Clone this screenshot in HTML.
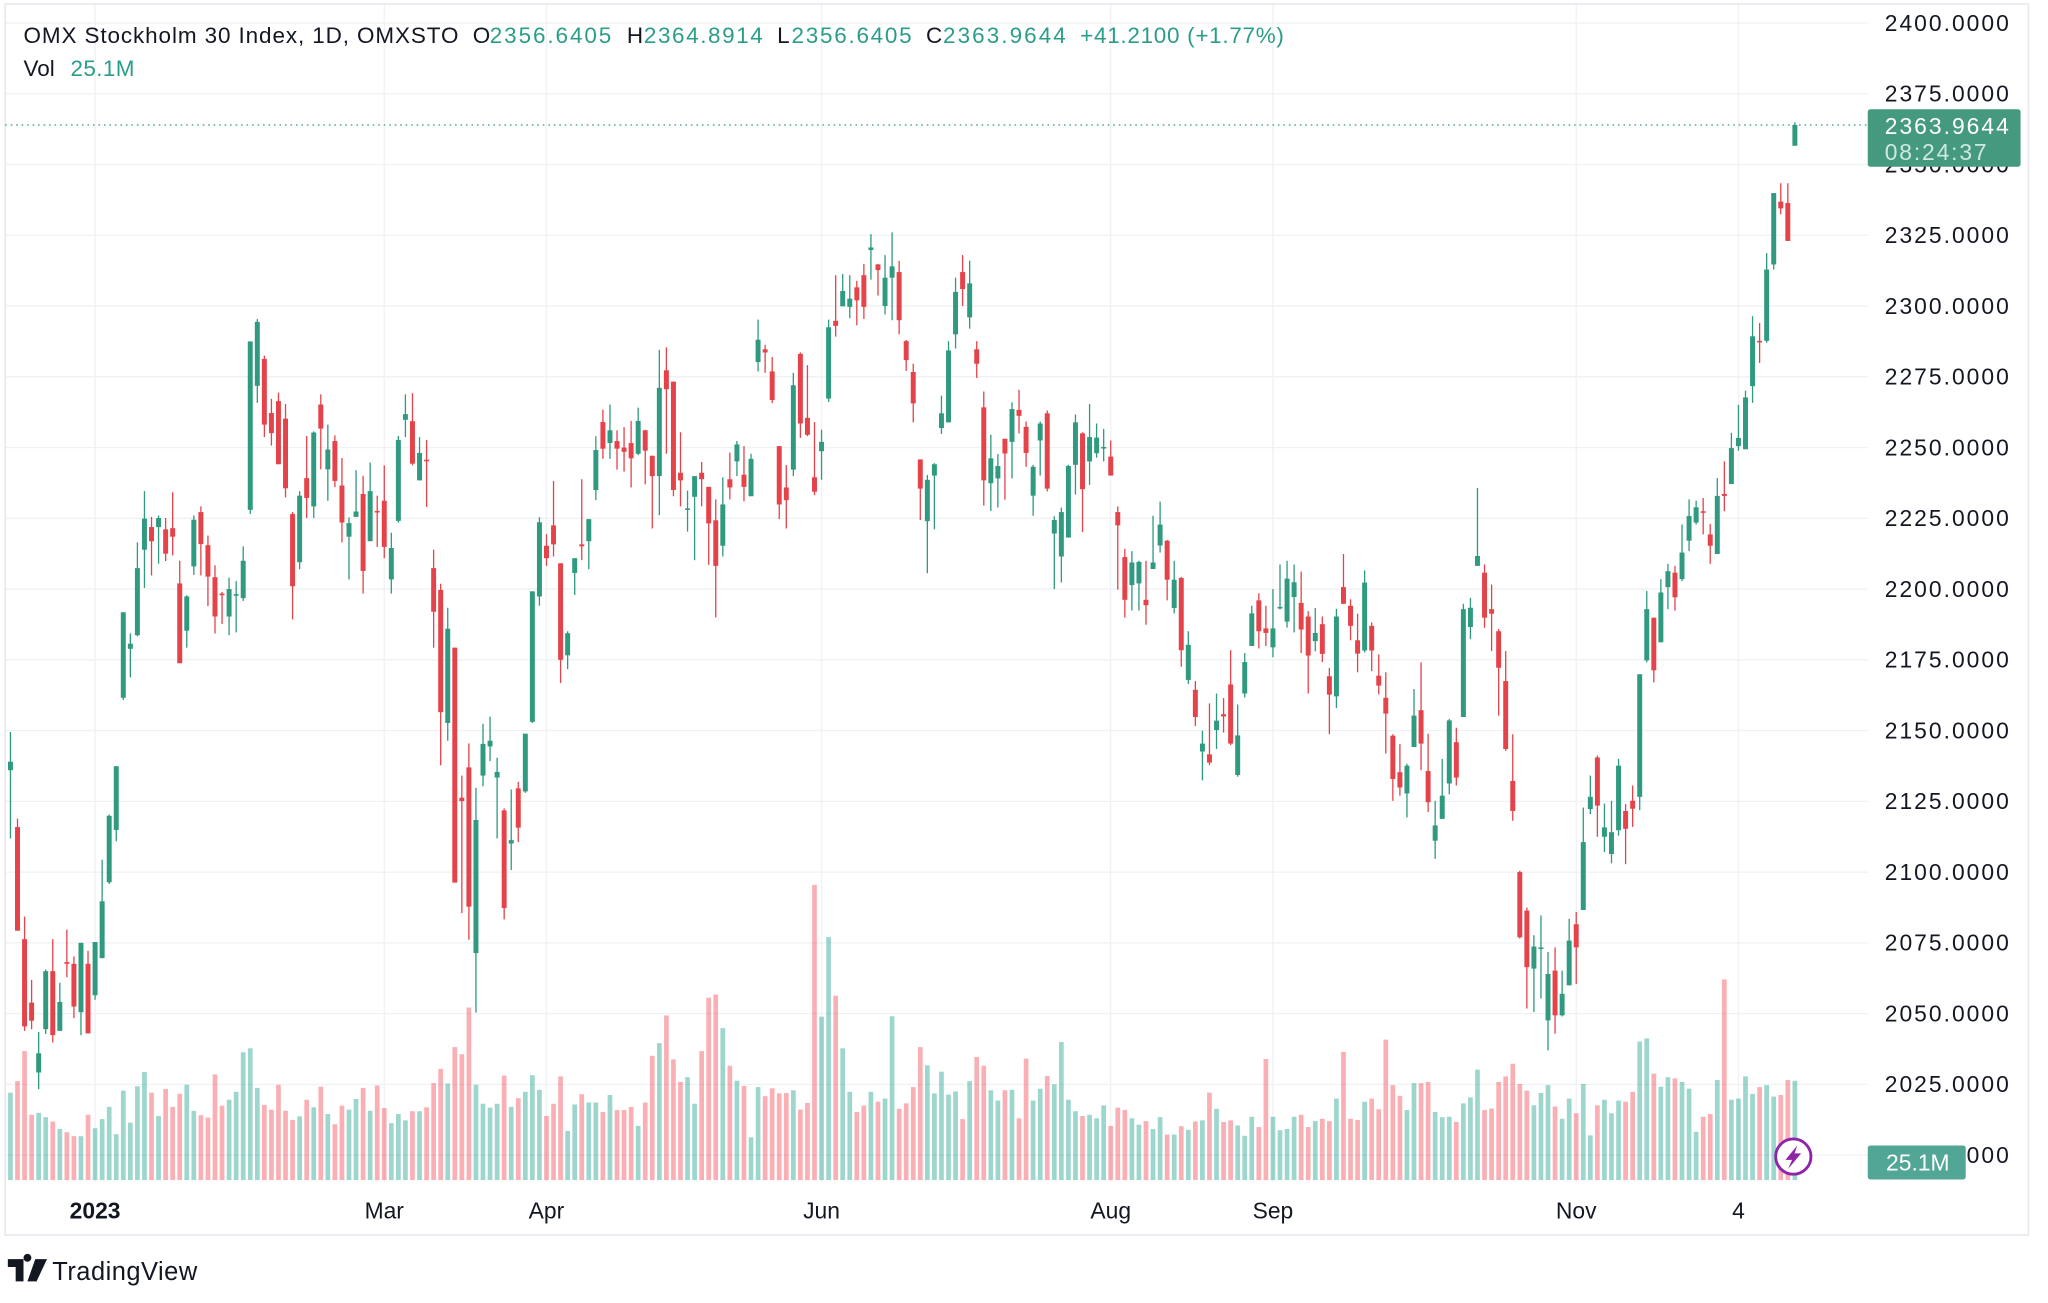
<!DOCTYPE html>
<html><head><meta charset="utf-8"><style>
html,body{margin:0;padding:0;background:#fff;}
svg{display:block;}
text{font-family:"Liberation Sans",sans-serif;}
</style></head><body>
<svg id="chart" width="2048" height="1303" viewBox="0 0 1568 997.6" preserveAspectRatio="none" xmlns="http://www.w3.org/2000/svg">
<rect x="0" y="0" width="1568" height="997.6" fill="#fff"/>
<g id="grid"></g>
<g id="vols"></g>
<g id="candles"></g>
<g id="axis"></g>
<g id="taxis"></g>
<rect x="4" y="3" width="1549" height="942.6" fill="none" stroke="#e6e8ee" stroke-width="1.2"/>
<g font-size="17.2">
<text x="18" y="33" fill="#131722" textLength="333">OMX Stockholm 30 Index, 1D, OMXSTO</text>
<text x="362" y="33" fill="#131722">O</text>
<text x="375" y="33" fill="#2a9d88" textLength="93">2356.6405</text>
<text x="480" y="33" fill="#131722">H</text>
<text x="493" y="33" fill="#2a9d88" textLength="91">2364.8914</text>
<text x="595" y="33" fill="#131722">L</text>
<text x="606" y="33" fill="#2a9d88" textLength="92">2356.6405</text>
<text x="709" y="33" fill="#131722">C</text>
<text x="722" y="33" fill="#2a9d88" textLength="94">2363.9644</text>
<text x="827" y="33" fill="#2a9d88" textLength="156">+41.2100 (+1.77%)</text>
<text x="18" y="58" fill="#131722">Vol</text>
<text x="54" y="58" fill="#2a9d88" textLength="49">25.1M</text>
</g>
<g>
<path d="M6 964h12v17h-6v-11h-6z M21 966a3 3 0 1 1 0.01 0z M27 964h9l-8 17h-7z" fill="#131722"/>
<text x="40" y="980" font-size="19.5" fill="#131722" textLength="111">TradingView</text>
</g>
</svg>
<script>
const opens=[2136.0,2115.9,2076.3,2053.9,2029.2,2044.5,2065.0,2043.9,2068.2,2067.6,2050.5,2067.6,2056.5,2069.6,2096.4,2114.9,2161.6,2178.9,2183.7,2213.9,2221.9,2221.9,2221.1,2221.5,2202.0,2185.3,2208.0,2227.2,2215.5,2204.2,2198.4,2190.3,2197.8,2196.8,2228.0,2271.8,2281.3,2262.2,2266.4,2260.2,2226.5,2209.5,2239.2,2229.2,2265.2,2242.3,2252.3,2236.6,2218.5,2225.5,2233.6,2216.9,2227.6,2231.2,2203.4,2224.1,2259.8,2259.3,2238.4,2245.7,2207.4,2199.7,2152.7,2179.3,2126.3,2137.0,2071.4,2134.1,2144.4,2133.4,2121.8,2110.1,2129.6,2128.5,2153.1,2197.4,2215.3,2222.5,2209.1,2176.6,2205.7,2215.8,2216.9,2235.0,2259.0,2251.6,2252.3,2250.0,2251.6,2247.8,2256.1,2247.1,2239.9,2277.3,2273.3,2241.1,2228.1,2232.6,2241.1,2236.1,2224.3,2215.3,2238.8,2245.1,2240.4,2232.8,2280.2,2284.7,2276.9,2250.5,2235.9,2242.2,2283.1,2260.5,2239.5,2248.7,2267.3,2294.8,2299.9,2299.7,2306.6,2310.9,2319.8,2314.7,2300,2310,2312,2287.6,2276.7,2245.8,2224.0,2240.1,2256.9,2258.9,2290,2312,2296,2284.7,2264.2,2237.4,2239.1,2253.1,2252.0,2263.3,2257.3,2233.0,2252.5,2262.1,2219.6,2211.5,2218.2,2243.9,2255.0,2245.1,2248.0,2249.9,2246.8,2227.2,2211.3,2201.4,2202.0,2196.2,2207.1,2215.4,2217.1,2193.3,2203.9,2167.9,2164.4,2142.6,2141.6,2150.2,2155.8,2166.3,2134.3,2163.1,2179.9,2196.0,2186.1,2179.4,2193.3,2188.5,2197.2,2195.1,2190.3,2181.6,2187.6,2169.2,2162.1,2200.7,2194.1,2181.9,2178.3,2187.0,2169.4,2161.6,2148.2,2135.3,2127.8,2144.2,2157.2,2135.7,2111.1,2118.8,2131.3,2145.9,2154.8,2186.6,2208.2,2205.8,2192.9,2185.1,2167.5,2132.2,2100.0,2086.4,2065.9,2073.0,2047.6,2065.2,2049.4,2060.0,2081.6,2086.6,2122.3,2140.5,2112.5,2106.4,2114.8,2121.6,2125.2,2126.6,2174.8,2189.9,2181.2,2200.7,2205.8,2203.5,2217.1,2223.5,2227.5,2219.3,2212.4,2233.6,2237.1,2250.5,2249.4,2271.7,2287.7,2287.7,2314.7,2336.9,2336.4,2356.64];
const closes=[2139.0,2079.3,2045.5,2047.5,2036.0,2065.0,2042.4,2054.1,2067.6,2052.5,2075.0,2043.0,2075.3,2089.7,2119.9,2137.4,2191.8,2180.7,2207.4,2224.9,2216.9,2225.1,2212.5,2218.5,2173.8,2197.4,2224.5,2215.9,2204.4,2190.3,2198.0,2200.0,2198.2,2210.0,2287.5,2294.4,2258.1,2255.1,2244.1,2235.6,2201.0,2233.0,2232.2,2255.3,2256.7,2249.3,2238.2,2223.5,2223.3,2227.4,2206.4,2234.6,2227.2,2214.9,2214.5,2252.7,2261.8,2244.3,2248.1,2245.3,2192.0,2156.5,2186.0,2096.3,2125.1,2087.8,2118.4,2145.3,2146.4,2135.4,2087.3,2111.3,2115.7,2148.9,2199.2,2223.6,2210.9,2215.8,2175.0,2184.4,2210.9,2215.1,2224.7,2249.1,2249.6,2256.1,2249.6,2248.5,2246.2,2259.4,2248.9,2239.9,2271.1,2270.6,2235.0,2238.4,2228.5,2239.9,2238.8,2223.2,2208.2,2229.9,2235.9,2251.1,2236.1,2246.0,2288.1,2283.6,2266.8,2229.9,2231.4,2272.0,2258.5,2254.5,2234.4,2252.0,2292.5,2293.0,2305.3,2302.6,2302.0,2299.7,2320.7,2312.7,2310,2314,2295,2280.9,2265.6,2235.5,2238.6,2244.1,2262.1,2284.3,2305,2306,2308,2279.6,2238.4,2246.2,2243.5,2247.9,2263.6,2261.2,2248.1,2243.2,2258.5,2235.5,2224.4,2227.2,2243.5,2258.9,2235.3,2253.7,2253.5,2250.2,2240.1,2222.5,2196.2,2209.4,2209.6,2194.3,2209.4,2222.8,2203.3,2203.3,2178.4,2180.3,2154.8,2145.4,2138.7,2153.5,2155.0,2145.4,2148.3,2174.2,2191.4,2185.1,2184.5,2186.1,2193.7,2203.7,2202.4,2185.7,2176.5,2184.5,2177.1,2162.7,2190.3,2194.8,2187.0,2177.2,2202.3,2178.3,2165.9,2156.0,2132.9,2129.9,2137.6,2155.3,2145.4,2124.7,2116.5,2127.0,2153.6,2133.4,2192.9,2193.4,2211.7,2189.9,2191.3,2172.2,2143.5,2121.6,2077.0,2066.4,2073.7,2073.4,2064.0,2049.4,2057.0,2075.8,2073.4,2110.6,2126.6,2123.5,2115.8,2114.1,2137.6,2115.3,2122.4,2169.9,2192.9,2171.3,2198.8,2206.3,2197.1,2212.9,2225.8,2228.9,2227.0,2215.3,2232.9,2232.9,2249.8,2253.4,2267.7,2289.3,2287.5,2312.9,2339.9,2334.5,2323.0,2363.96];
const highs=[2149.5,2118.9,2084.3,2061.9,2043.5,2065.6,2076.3,2060.9,2079.7,2070.2,2075.0,2072.2,2075.3,2104.4,2120.3,2137.4,2191.8,2184.3,2216.5,2234.6,2225.5,2226.0,2225.1,2234.2,2210.0,2197.8,2226.0,2229.2,2218.9,2208.4,2199.0,2204.0,2202.8,2215.1,2287.5,2295.4,2282.5,2267.2,2269.4,2265.4,2227.2,2234.6,2254.1,2255.7,2268.8,2258.1,2254.3,2246.3,2225.3,2242.0,2240.0,2244.7,2233.0,2243.7,2219.9,2254.1,2268.8,2269.2,2253.7,2252.7,2213.9,2201.9,2193.4,2179.3,2134.1,2145.5,2129.8,2152.4,2154.9,2140.4,2122.5,2129.2,2131.9,2148.9,2199.2,2225.4,2219.4,2238.2,2209.1,2185.1,2210.9,2238.8,2224.7,2254.0,2263.4,2265.2,2256.1,2257.2,2259.4,2264.1,2256.3,2247.1,2284.5,2285.4,2273.3,2255.4,2234.8,2239.9,2244.9,2236.1,2231.7,2239.5,2248.2,2252.3,2250.5,2247.8,2295.2,2286.3,2282.0,2250.5,2243.8,2276.4,2283.6,2279.1,2259.0,2256.3,2295.2,2310.9,2311.3,2310.9,2308.9,2314.9,2325.4,2314.9,2318,2326,2316,2288.0,2279.6,2245.8,2240.3,2244.5,2268.3,2287.6,2310,2318,2316,2287.6,2269.8,2254.5,2247.7,2253.1,2266.0,2270.4,2259.2,2243.9,2259.2,2263.1,2225.7,2228.8,2243.9,2261.7,2255.4,2265.4,2258.5,2256.6,2252.5,2229.2,2214.2,2213.4,2210.0,2210.0,2225.9,2230.9,2217.3,2210.0,2204.3,2185.1,2167.5,2150.0,2159.6,2163.1,2161.5,2178.4,2159.2,2177.4,2194.1,2198.5,2194.1,2200.0,2208.7,2210.0,2208.7,2206.2,2192.2,2193.3,2190.3,2172.1,2193.0,2212.4,2196.4,2191.3,2206.6,2188.2,2176.9,2170.6,2148.7,2145.2,2138.3,2164.7,2174.1,2148.9,2125.2,2140.0,2154.1,2151.0,2194.8,2196.9,2235.7,2208.7,2201.6,2185.9,2178.1,2148.7,2100.5,2087.5,2077.7,2084.7,2071.8,2073.4,2065.2,2083.5,2085.9,2122.8,2134.1,2141.2,2124.2,2125.2,2140.0,2124.0,2130.6,2169.9,2199.3,2189.9,2203.5,2208.9,2208.2,2222.8,2231.7,2231.2,2232.2,2223.0,2239.2,2245.1,2255.2,2265.1,2270.1,2296.4,2294.0,2318.7,2339.9,2343.4,2343.4,2364.89];
const lows=[2111.9,2079.3,2043.9,2044.5,2023.3,2042.8,2039.8,2043.9,2062.9,2048.4,2042.4,2043.0,2054.9,2069.6,2095.8,2110.9,2160.8,2168.8,2183.3,2200.4,2204.8,2209.0,2209.9,2211.9,2173.8,2179.3,2205.0,2204.8,2194.0,2184.3,2187.7,2183.7,2184.7,2195.8,2226.5,2265.8,2253.7,2250.7,2244.1,2232.4,2189.3,2207.0,2225.1,2225.1,2242.3,2231.2,2236.0,2216.5,2203.4,2225.5,2198.4,2216.9,2214.9,2210.9,2198.4,2223.5,2253.7,2243.7,2238.4,2229.0,2179.3,2137.7,2146.4,2096.3,2085.5,2076.1,2050.4,2130.3,2139.2,2111.9,2083.3,2100.7,2110.6,2128.0,2152.7,2194.1,2208.2,2211.5,2166.8,2171.7,2197.9,2210.2,2207.0,2231.4,2246.0,2246.0,2242.2,2241.5,2235.9,2247.3,2237.0,2221.4,2226.1,2247.8,2232.8,2229.2,2220.3,2210.2,2229.2,2208.6,2190.0,2211.5,2231.7,2239.9,2231.0,2232.8,2276.9,2276.4,2265.7,2224.7,2221.4,2239.9,2253.4,2254.0,2233.2,2238.6,2266.1,2289.2,2299.9,2295.7,2293.2,2295.4,2309.3,2303.7,2297,2295,2290,2277.1,2258.9,2224.4,2205.6,2221.1,2254.8,2258.9,2285,2300,2292,2274.6,2229.5,2227.6,2228.8,2231.6,2239.1,2255.0,2243.2,2225.9,2240.1,2234.5,2200.0,2202.3,2218.2,2233.4,2220.2,2236.8,2246.4,2245.1,2240.1,2199.8,2189.9,2192.4,2192.4,2187.4,2207.1,2212.9,2196.0,2191.4,2172.6,2166.5,2151.6,2132.4,2137.8,2143.5,2149.3,2144.9,2133.7,2161.7,2179.9,2179.0,2179.9,2175.9,2192.8,2186.4,2184.7,2177.4,2163.1,2178.0,2174.2,2148.7,2158.0,2194.8,2181.9,2170.6,2177.6,2171.0,2162.8,2141.9,2125.2,2127.0,2119.3,2144.2,2136.0,2121.2,2104.7,2118.8,2127.5,2130.6,2154.8,2182.3,2208.2,2186.3,2178.1,2155.3,2142.8,2118.1,2076.5,2051.8,2050.6,2055.3,2037.0,2042.9,2049.0,2060.0,2060.5,2086.6,2120.5,2112.5,2107.1,2103.1,2112.9,2102.8,2116.0,2121.9,2174.1,2167.0,2181.2,2192.9,2192.4,2202.8,2213.4,2222.8,2219.3,2208.9,2212.4,2227.5,2237.1,2248.9,2249.4,2265.8,2279.9,2287.0,2312.9,2332.4,2323.0,2356.64];
const volumes=[22.1,25.0,32.6,16.5,17.0,15.9,14.8,12.9,12.1,11.1,11.1,16.5,13.1,15.4,18.5,11.6,22.6,14.5,23.7,27.3,22.1,16.2,23.0,18.5,21.8,24.1,17.5,16.4,15.8,26.7,18.8,20.3,22.3,32.3,33.3,23.3,19.0,17.8,24.1,17.5,15.2,16.1,20.3,18.4,23.6,16.7,14.1,18.8,17.8,20.5,23.3,17.5,23.9,18.2,14.4,16.7,15.1,17.4,17.4,18.4,24.5,28.1,24.4,33.6,31.8,43.6,24.1,19.3,18.3,19.3,26.4,18.5,20.7,22.3,26.5,22.8,16.2,19.3,26.2,12.4,19.1,21.7,19.6,19.6,17.2,21.5,17.7,17.7,18.5,13.7,19.6,31.4,34.6,41.6,30.5,24.8,26.0,19.3,32.6,46.1,46.9,38.4,28.9,25.1,23.8,10.8,23.5,21.2,23.2,21.9,22.0,22.7,17.8,19.5,74.6,41.3,61.4,46.6,33.3,22.3,17.2,18.8,22.3,19.8,20.6,41.4,18.0,19.4,23.5,33.6,29.0,21.9,27.4,21.6,22.4,15.4,25.0,31.1,28.9,22.7,20.1,22.7,22.8,15.6,30.7,20.1,23.1,26.3,24.2,34.9,20.3,17.4,16.2,16.5,15.6,18.9,13.7,18.3,17.7,15.6,14.0,14.9,12.9,15.9,11.5,11.5,13.6,12.7,14.8,15.1,22.1,18.0,14.7,15.1,13.8,11.2,16.0,13.4,30.6,16.0,12.6,12.9,16.0,16.5,13.4,14.9,15.5,14.9,20.6,32.4,15.5,15.2,19.8,20.6,17.9,35.5,24.0,21.3,17.7,24.5,24.5,24.8,17.2,15.9,16.0,14.7,19.4,20.9,27.9,17.7,18.1,24.8,26.2,29.4,24.3,22.6,18.9,22.0,24.0,18.6,15.5,20.6,16.9,24.3,11.3,18.9,20.3,16.9,20.1,19.8,22.3,35.0,35.8,26.9,23.6,26.0,25.7,24.8,23.1,12.2,16.0,16.7,25.3,50.7,20.3,20.6,26.2,21.8,23.5,24.0,21.1,21.5,25.3,25.1];
const priceTicks=[2400,2375,2350,2325,2300,2275,2250,2225,2200,2175,2150,2125,2100,2075,2050,2025,2000];
const timeLabels=["2023","Mar","Apr","Jun","Aug","Sep","Nov","4"];
const timeLabelIdx=[12,53,76,115,156,179,222,245];
const lastPrice=2363.9644;

const NS="http://www.w3.org/2000/svg";
const PANE_R=1430, VOL_BASE=903.5, VOL_PX=3.03;
function yP(p){return 17.6+(2400-p)*2.167;}
function xI(i){return 8+5.40*i;}
function mk(tag,attrs,parent){const e=document.createElementNS(NS,tag);for(const k in attrs)e.setAttribute(k,attrs[k]);parent.appendChild(e);return e;}
const grid=document.getElementById('grid'),axis=document.getElementById('axis'),taxis=document.getElementById('taxis');
const vols=document.getElementById('vols'),cg=document.getElementById('candles'),svg=document.getElementById('chart');

priceTicks.forEach(p=>{
  const l=mk('line',{x1:4,x2:PANE_R,y1:yP(p),y2:yP(p),stroke:'#f0f1f4','stroke-width':1},grid);
  
  
  const t=mk('text',{x:1538,y:yP(p)+6,'text-anchor':'end','font-size':17.5,fill:'#131722',textLength:95},axis);
  t.textContent=p.toFixed(4);
  
  
});
timeLabels.forEach((s,k)=>{
  const x=xI(timeLabelIdx[k]);
  const l=mk('line',{x1:x,x2:x,y1:3,y2:905,stroke:'#f0f1f4','stroke-width':1},grid);
  
  
  const t=mk('text',{x:x,y:933,'text-anchor':'middle','font-size':17.5,fill:'#131722','font-weight':k===0?'bold':'normal'},taxis);
  t.textContent=s;
  
  
});

for(let i=0;i<closes.length;i++){
  const up=closes[i]>=opens[i], x=xI(i);
  const h=volumes[i]*VOL_PX;
  const vb=mk('rect',{x:x-1.8,y:VOL_BASE-h,width:3.6,height:h,fill:up?'#089981':'#f23645','fill-opacity':0.4},vols);
  
  
  const col=up?'#2f9a7f':'#e5434a';
  const w=mk('line',{x1:x,x2:x,y1:yP(highs[i]),y2:yP(lows[i]),stroke:col,'stroke-width':1},cg);
  
  
  const top=yP(Math.max(opens[i],closes[i])), bh=Math.max(1.2,yP(Math.min(opens[i],closes[i]))-top);
  const b=mk('rect',{x:x-1.9,y:top,width:3.8,height:bh,fill:col},cg);
  
  
}

const ly=yP(lastPrice);
const dl=mk('line',{x1:4,x2:PANE_R,y1:ly,y2:ly,stroke:'#2f9a7f','stroke-width':1,'stroke-dasharray':'1.2 3'},svg);


const lb=mk('rect',{x:1430,y:ly-12,width:117,height:44,rx:2,fill:'#45997f'},svg);


const lt=mk('text',{x:1538,y:ly+7,'text-anchor':'end','font-size':17.5,fill:'#fff',textLength:95},svg);
lt.textContent='2363.9644';


const ct=mk('text',{x:1443,y:ly+27,'font-size':17.5,fill:'#cfe9e1',textLength:78},svg);
ct.textContent='08:24:37';


const vb2=mk('rect',{x:1430,y:877,width:75,height:26,rx:2,fill:'#52a696'},svg);


const vt=mk('text',{x:1444,y:896,'font-size':17.5,fill:'#fff'},svg);
vt.textContent='25.1M';


const ic=mk('g',{},svg);


mk('circle',{cx:1373,cy:885.5,r:13.5,fill:'#fff',stroke:'#8e24aa','stroke-width':2.2},ic);
mk('path',{d:'M1376 877 L1367 888 L1372 888 L1369 895 L1379 883 L1374 883 Z',fill:'#8e24aa'},ic);
</script>
</body></html>
